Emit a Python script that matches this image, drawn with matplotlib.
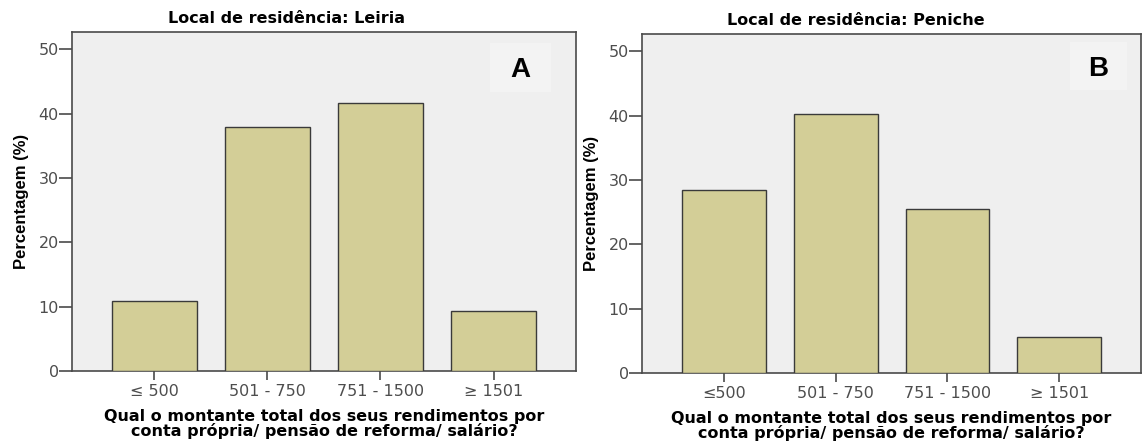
import matplotlib.pyplot as plt
from matplotlib.patches import Rectangle

plt.rcParams['font.family'] = ['DejaVu Sans']

# Data
categories_leiria = ['≤ 500', '501 - 750', '751 - 1500', '≥ 1501']
categories_peniche = ['≤500', '501 - 750', '751 - 1500', '≥ 1501']
pct_leiria = [10.9, 37.9, 41.7, 9.3]
pct_peniche = [28.5, 40.3, 25.5, 5.6]
titles = ['Local de residência: Leiria', 'Local de residência: Peniche']
panel_tags = ['A', 'B']

xlabel = 'Qual o montante total dos seus rendimentos por\nconta própria/ pensão de reforma/ salário?'

bar_color = '#d3ce97'
bg_color = '#efefef'
frame_color = '#4a4a4a'

fig = plt.figure(figsize=(11.44, 4.42), dpi=100)

ax_l = fig.add_axes([0.0629, 0.1606, 0.4406, 0.767])
ax_r = fig.add_axes([0.5612, 0.1561, 0.4362, 0.767])

panels = [
    (ax_l, categories_leiria, pct_leiria, 287 / 1144, (0.829, 0.823, 0.121, 0.145)),
    (ax_r, categories_peniche, pct_peniche, 856 / 1144, (0.858, 0.835, 0.114, 0.142)),
]

for i, (ax, cats, vals, title_x, box) in enumerate(panels):
    x = range(len(cats))
    ax.bar(x, vals, width=0.75, color=bar_color, edgecolor='#3a3a3a', linewidth=1.0, zorder=3)
    ax.set_facecolor(bg_color)
    ax.set_xlim(-0.73, 3.73)
    ax.set_ylim(0, 52.7)
    ax.set_yticks([0, 10, 20, 30, 40, 50])
    ax.set_xticks(list(x))
    ax.set_xticklabels(cats)
    for s in ax.spines.values():
        s.set_color(frame_color)
        s.set_linewidth(1.2)
    ax.tick_params(axis='both', colors=frame_color, labelcolor='#4d4d4d',
                   labelsize=11.5, width=1.2, direction='out')
    ax.tick_params(axis='x', length=6.5, pad=3)
    ax.tick_params(axis='y', length=9.5, pad=0)
    ax.set_ylabel('Percentagem (%)', fontsize=12, fontweight='bold', labelpad=7,
                  family=['Liberation Sans', 'DejaVu Sans'])
    ax.set_xlabel(xlabel, fontsize=11.5, fontweight='bold', linespacing=0.92, labelpad=7)
    top = ax.get_position().y1
    fig.text(title_x, top + 0.013, titles[i], ha='center', va='bottom',
             fontsize=11.5, fontweight='bold')
    ax.add_patch(Rectangle((box[0], box[1]), box[2], box[3], transform=ax.transAxes,
                           facecolor='#f3f3f3', edgecolor='none', zorder=2))
    ax.text(box[0] + box[2] / 2, box[1] + box[3] / 2 - 0.008, panel_tags[i], transform=ax.transAxes,
            ha='center', va='center', fontsize=20, fontweight='bold',
            family=['Liberation Sans', 'DejaVu Sans'], zorder=4)

fig.savefig('out.png', dpi=100, facecolor='white')
